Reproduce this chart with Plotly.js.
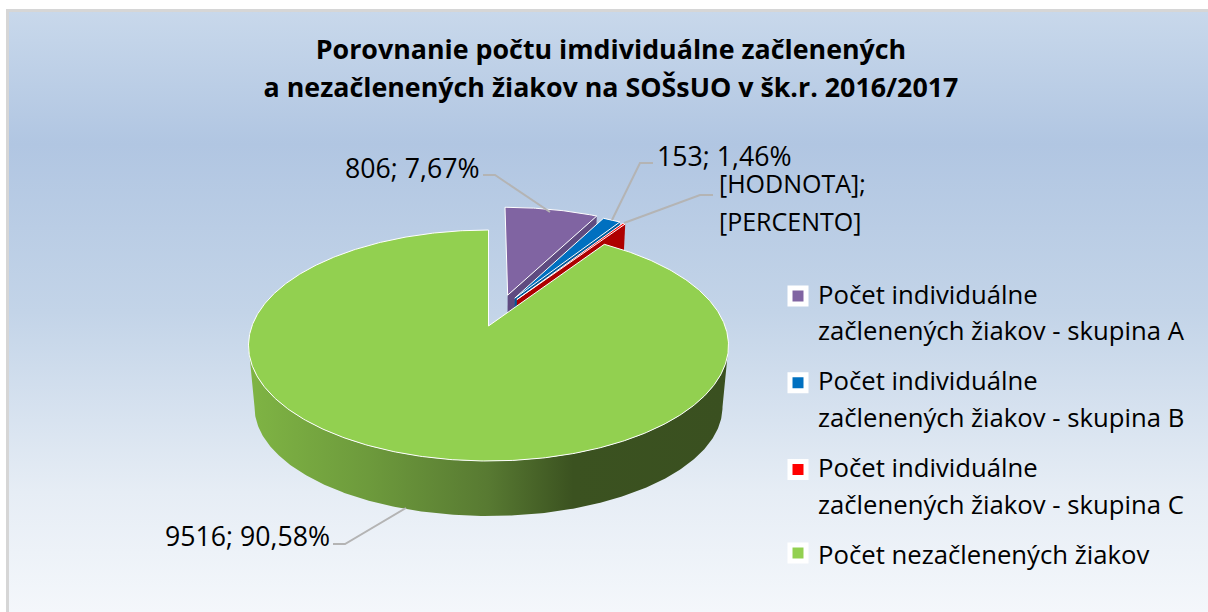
<!DOCTYPE html>
<html>
<head>
<meta charset="utf-8">
<script src="https://cdn.plot.ly/plotly-3.0.1.min.js"></script>
<style>
html,body{margin:0;padding:0;background:#fff;width:1208px;height:612px;overflow:hidden}
#bg{position:absolute;left:6px;top:9px;width:1202px;height:603px;box-sizing:border-box;border:3px solid #d6d6d6;border-bottom:none;border-right:none;
background:linear-gradient(180deg,#c8d8eb 0%,#b1c6e2 22%,#c3d4e8 50%,#e6edf5 80%,#f4f7fb 100%)}
#chart{position:absolute;left:0;top:0;width:1208px;height:612px}
</style>
</head>
<body>
<div id="bg"></div>
<div id="chart"></div>
<script>
// ---- data ----
const categories = [
  'Počet individuálne<br>začlenených žiakov - skupina A',
  'Počet individuálne<br>začlenených žiakov - skupina B',
  'Počet individuálne<br>začlenených žiakov - skupina C',
  'Počet nezačlenených žiakov'
];
const values = [806, 153, 31, 9516];
const percentText = ['7,67%', '1,46%', null, '90,58%'];
const titleLines = ['Porovnanie počtu imdividuálne začlenených', 'a nezačlenených žiakov na SOŠsUO v šk.r. 2016/2017'];

// ---- styles ----
const topColors  = ['#8064A2', '#0070C0', '#FF0000', '#92D050'];
const sideColors = ['#5F4B80', '#005A9A', '#AE0000', '#5d8036'];
const FONT = '"Open Sans", Lato, sans-serif';
const LEGEND_SIZE = 25.7, LABEL_SIZE = 26.7, PLACEHOLDER_SIZE = 25;

// ---- view geometry of the tilted disc ----
const cx = 488.5, cy = 345.5, rx = 240, ry = 115.5, persp = 0.169;
const bottomCy = 407, bottomRx = 0.975, bottomRy = 0.944;
const explode = [[0.085, 0.288], [0.116, 0.259], [0.125, 0.245], [0, 0]];
const s = Math.sqrt(1 - persp * persp);

function project(X, Y) {
  const d = 1 + persp * Y;
  return [cx + rx * X * s / d, cy - ry * (Y + persp) / d];
}
function down(p) { return [cx + (p[0] - cx) * bottomRx, bottomCy + (p[1] - cy) * bottomRy]; }

const total = values.reduce((a, b) => a + b, 0);
let acc = 0;
const traces = [];
values.forEach((v, i) => {
  const a0 = acc / total * 2 * Math.PI;
  acc += v;
  const a1 = acc / total * 2 * Math.PI;
  const [ex, ey] = explode[i];
  const n = Math.max(4, Math.ceil((a1 - a0) / 0.01));
  const arc = [];
  for (let k = 0; k <= n; k++) {
    const t = a0 + (a1 - a0) * k / n;
    arc.push(project(Math.sin(t) + ex, Math.cos(t) + ey));
  }
  const apex = project(ex, ey);
  const isMain = i === 3;
  let sidePts;
  if (isMain) {
    // silhouette of the visible wall: right extreme -> front -> left extreme
    const xs = arc.map(p => p[0]);
    const iR = xs.indexOf(Math.max(...xs)), iL = xs.indexOf(Math.min(...xs));
    const front = arc.slice(iR, iL + 1);
    sidePts = front.concat(front.map(down).reverse());
    sidePts.push(front[0]);
  } else {
    // cut face on the leading edge
    const e = arc[arc.length - 1];
    sidePts = [apex, e, down(e), down(apex), apex];
  }
  const side = {
    type: 'scatter', mode: 'lines', x: sidePts.map(p => p[0]), y: sidePts.map(p => p[1]),
    fill: 'toself', hoverinfo: 'skip', showlegend: false,
    line: {width: 0, color: sideColors[i]}, fillcolor: sideColors[i]
  };
  if (isMain) {
    side.fillgradient = {
      type: 'horizontal', start: 250, stop: 725,
      colorscale: [[0, '#7FB444'], [0.25, '#6d9a3c'], [0.5, '#587a32'], [0.68, '#3b5220'], [1, '#3a5020']]
    };
  }
  traces.push(side);
  const outline = [apex].concat(arc, [apex]);
  traces.push({
    type: 'scatter', mode: 'lines', x: outline.map(p => p[0]), y: outline.map(p => p[1]),
    fill: 'toself', fillcolor: topColors[i], line: {width: 1, color: '#ffffff'},
    name: categories[i].replace('<br>', ' '), hoverinfo: 'name', showlegend: false
  });
});

// legend entries
categories.forEach((c, i) => {
  traces.push({
    type: 'scatter', mode: 'markers', x: [null], y: [null],
    name: '<span style="font-size:' + LEGEND_SIZE + 'px">' + c + '</span>',
    legendgroup: 'g' + i, hoverinfo: 'skip',
    marker: {symbol: 'square', size: 16, color: topColors[i], line: {color: '#ffffff', width: 5}}
  });
});

const label = (i) => values[i] + '; ' + percentText[i];
const lab = (text, x, y, xanchor) => ({
  xref: 'x', yref: 'y', x, y, text, xanchor: xanchor || 'center', yanchor: 'middle', showarrow: false, align: 'left',
  font: {family: FONT, size: LABEL_SIZE, color: '#000'}
});
const annotations = [
  lab(label(0), 412, 167),
  lab(label(1), 724, 155),
  Object.assign(lab('<span style="font-size:' + PLACEHOLDER_SIZE + 'px">[HODNOTA];<br>[PERCENTO]</span>', 717, 202, 'left'), {font: {family: FONT, size: 29, color: '#000'}}),
  lab(label(3), 247, 535)
];
const leader = (pts) => ({
  type: 'path', xref: 'x', yref: 'y', layer: 'above',
  path: 'M' + pts.map(p => p.join(' ')).join(' L'),
  line: {color: '#b4b4b4', width: 2}
});
const shapes = [
  leader([[483, 175], [495, 175], [550, 212]]),
  leader([[653, 163], [640, 163], [612, 220]]),
  leader([[624, 223], [700, 195], [713, 195]]),
  leader([[333, 544], [345, 544], [406, 508]])
];

const layout = {
  width: 1208, height: 612,
  margin: {l: 0, r: 0, t: 0, b: 0},
  paper_bgcolor: 'rgba(0,0,0,0)', plot_bgcolor: 'rgba(0,0,0,0)',
  title: {
    text: '<b><span style="font-size:26.8px">' + titleLines.join('<br>') + '</span></b>',
    font: {family: FONT, size: 29, color: '#000'},
    x: 611 / 1208, xanchor: 'center', y: 1 - 59 / 612, yanchor: 'middle'
  },
  xaxis: {range: [0, 1208], visible: false, fixedrange: true},
  yaxis: {range: [612, 0], visible: false, fixedrange: true},
  showlegend: true,
  legend: {
    x: 778 / 1208, xanchor: 'left', y: 1 - 268 / 612, yanchor: 'top',
    bgcolor: 'rgba(0,0,0,0)', borderwidth: 0,
    font: {family: FONT, size: 28, color: '#000'},
    traceorder: 'grouped', tracegroupgap: 11, itemclick: false, itemdoubleclick: false
  },
  annotations, shapes
};

Plotly.newPlot('chart', traces, layout, {displayModeBar: false}).then(gd => {
  // legend swatches sit on the first line of each two-line entry
  const fix = () => {
    gd.querySelectorAll('.legend .traces').forEach(t => {
      const lines = t.querySelectorAll('.legendtext .line').length;
      const pts = t.querySelector('.legendpoints');
      if (lines > 1 && pts) pts.setAttribute('transform', 'translate(0,-15)');
    });
  };
  fix();
  gd.on('plotly_afterplot', fix);
});
</script>
</body>
</html>
